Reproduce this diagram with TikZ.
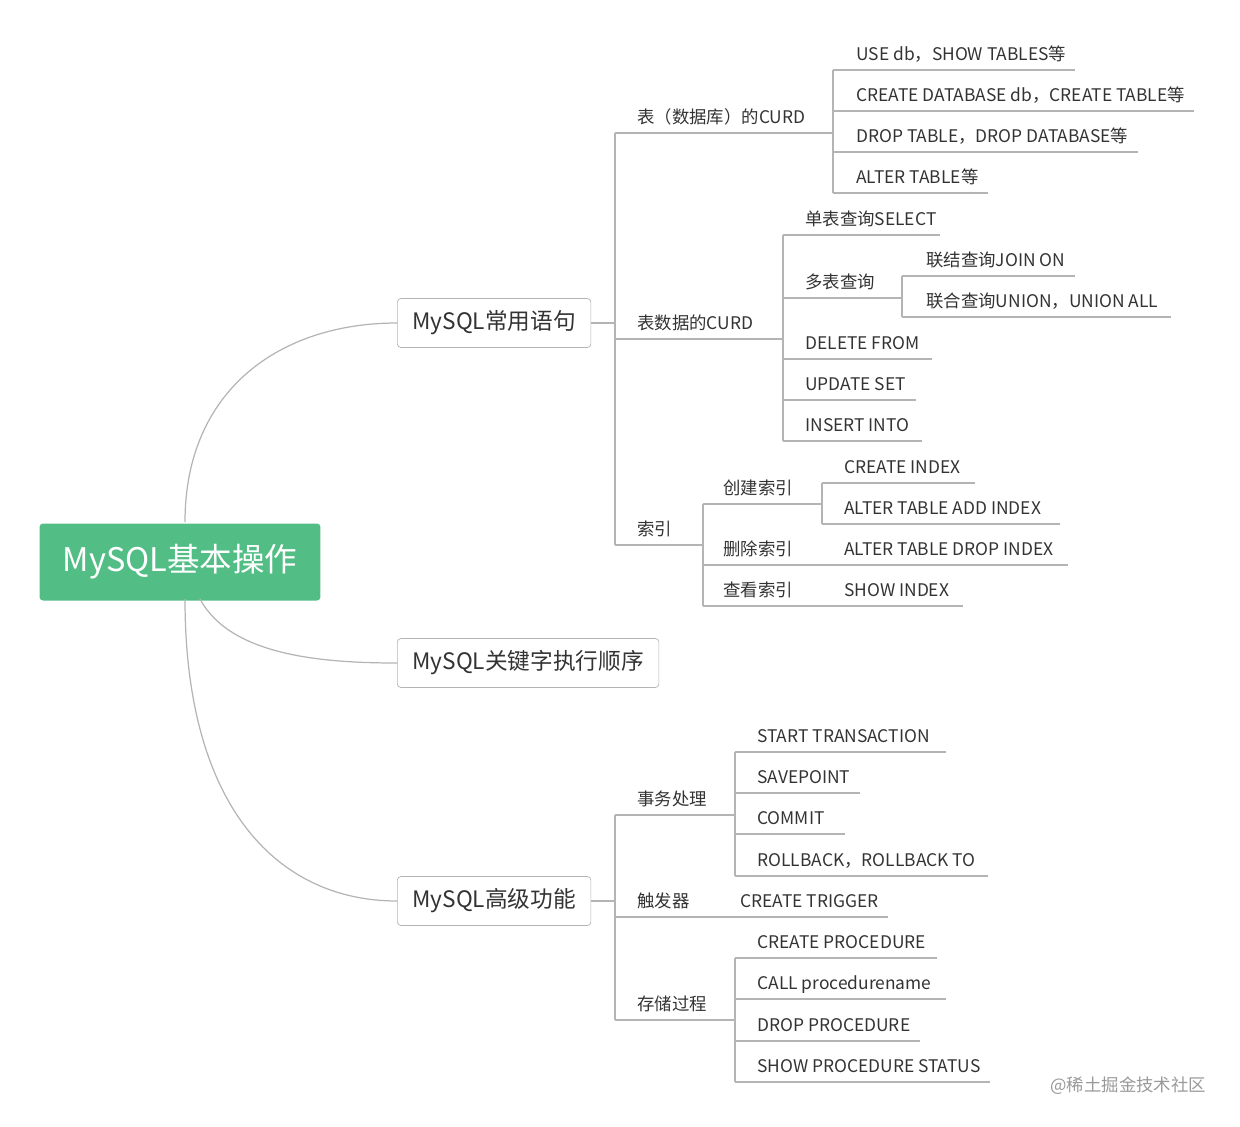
\documentclass[tikz,border=0pt]{standalone}
\usepackage{fontspec}
\setmainfont{Noto Sans CJK SC}
\definecolor{rootgreen}{HTML}{52BE86}
\definecolor{linegray}{HTML}{B4B4B4}
\definecolor{textgray}{HTML}{333333}
\newcommand\leaf[6]{%
  \draw[branch] (#2,#4) -- (#5,#4);
  \node[leaf text] (#1) at (#3,#4-10) {#6};}
\begin{document}
\begin{tikzpicture}[x=0.02cm,y=-0.02cm,font=\fontsize{9.9}{11}\selectfont,
    branch/.style={draw=linegray, line width=0.7pt}]
    \tikzstyle{leaf text}=[anchor=base west,inner sep=0,text=textgray]
    \tikzstyle{topic box}=[draw=linegray,rounded corners=2pt,fill=white,anchor=west,
        minimum height=0.98cm,inner xsep=0.3cm,text=textgray,font=\fontsize{12.9}{14}\selectfont]
    \useasboundingbox (0,0) rectangle (1240,1126);

    % root and main topics
    \node(root)[fill=rootgreen,rounded corners=2pt,text=white,minimum width=5.62cm,
        minimum height=1.54cm,font=\fontsize{18.5}{20}\selectfont] at (180,562) {MySQL基本操作};
    \node(common)[topic box] at (397,323) {MySQL常用语句};
    \node(order)[topic box] at (397,663) {MySQL关键字执行顺序};
    \node(adv)[topic box] at (397,901) {MySQL高级功能};

    \draw[branch] (185,522) .. controls (185,390) and (280,323) .. (common.west);
    \draw[branch] (200,599) .. controls (230,655) and (320,663) .. (order.west);
    \draw[branch] (185,599) .. controls (185,810) and (280,901) .. (adv.west);

    % MySQL常用语句
    \draw[branch] (common.east) -- (615,323);
    \draw[branch] (615,133) -- (615,545);
    \leaf{tbl}{615}{637}{133}{833}{表（数据库）的CURD}
    \leaf{rows}{615}{637}{339}{783}{表数据的CURD}
    \leaf{idx}{615}{637}{545}{703}{索引}

    \draw[branch] (833,70) -- (833,193);
    \leaf{use}{833}{856}{70}{1075}{USE db，SHOW TABLES等}
    \leaf{create}{833}{856}{111}{1194}{CREATE DATABASE db，CREATE TABLE等}
    \leaf{drop}{833}{856}{152}{1138}{DROP TABLE，DROP DATABASE等}
    \leaf{alter}{833}{856}{193}{988}{ALTER TABLE等}

    \draw[branch] (783,235) -- (783,441);
    \leaf{single}{783}{805}{235}{940}{单表查询SELECT}
    \leaf{multi}{783}{805}{298}{902}{多表查询}
    \draw[branch] (902,276) -- (902,317);
    \leaf{join}{902}{926}{276}{1075}{联结查询JOIN ON}
    \leaf{union}{902}{926}{317}{1171}{联合查询UNION，UNION ALL}
    \leaf{delete}{783}{805}{359}{932}{DELETE FROM}
    \leaf{update}{783}{805}{400}{916}{UPDATE SET}
    \leaf{insert}{783}{805}{441}{922}{INSERT INTO}

    \draw[branch] (703,504) -- (703,606);
    \leaf{mkidx}{703}{723}{504}{822}{创建索引}
    \draw[branch] (822,483) -- (822,524);
    \leaf{cridx}{822}{844}{483}{975}{CREATE INDEX}
    \leaf{addidx}{822}{844}{524}{1060}{ALTER TABLE ADD INDEX}
    \leaf{rmidx}{703}{723}{565}{822}{删除索引}
    \leaf{dropidx}{822}{844}{565}{1068}{ALTER TABLE DROP INDEX}
    \leaf{showidx}{703}{723}{606}{822}{查看索引}
    \leaf{showindex}{822}{844}{606}{963}{SHOW INDEX}

    % MySQL高级功能
    \draw[branch] (adv.east) -- (615,901);
    \draw[branch] (615,815) -- (615,1020);
    \leaf{trans}{615}{637}{815}{735}{事务处理}
    \draw[branch] (735,752) -- (735,876);
    \leaf{start}{735}{757}{752}{946}{START TRANSACTION}
    \leaf{save}{735}{757}{793}{860}{SAVEPOINT}
    \leaf{commit}{735}{757}{834}{845}{COMMIT}
    \leaf{rollback}{735}{757}{876}{988}{ROLLBACK，ROLLBACK TO}
    \leaf{trig}{615}{637}{917}{718}{触发器}
    \leaf{crtrig}{718}{740}{917}{888}{CREATE TRIGGER}
    \leaf{proc}{615}{637}{1020}{735}{存储过程}
    \draw[branch] (735,958) -- (735,1082);
    \leaf{crproc}{735}{757}{958}{937}{CREATE PROCEDURE}
    \leaf{call}{735}{757}{999}{946}{CALL procedurename}
    \leaf{dropproc}{735}{757}{1041}{920}{DROP PROCEDURE}
    \leaf{status}{735}{757}{1082}{990}{SHOW PROCEDURE STATUS}

    \node(mark)[anchor=west,text=gray!80,inner sep=0] at (1050,1086) {@稀土掘金技术社区};
\end{tikzpicture}
\end{document}
